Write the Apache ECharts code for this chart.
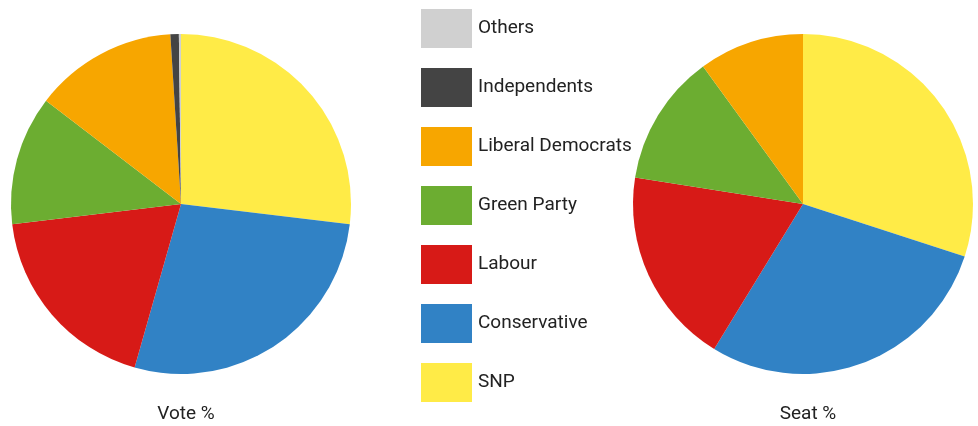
<!DOCTYPE html>
<html>
<head>
<meta charset="utf-8">
<script src="https://cdn.jsdelivr.net/npm/echarts@6/dist/echarts.min.js"></script>
<style>
  html, body { margin: 0; padding: 0; background: #fff; }
  #chart { width: 978px; height: 426px; }
</style>
</head>
<body>
<div id="chart"></div>
<script>
// party names, in pie order (clockwise from 12 o'clock)
var parties = ['SNP', 'Conservative', 'Labour', 'Green Party', 'Liberal Democrats', 'Independents', 'Others']
var colors = ['#ffeb47', '#3182c5', '#d71a17', '#6cad31', '#f7a600', '#444444', '#d0d0d0']
// legend shows them top-down in reverse
var legendOrder = ['Others', 'Independents', 'Liberal Democrats', 'Green Party', 'Labour', 'Conservative', 'SNP']

var votePct = [26.9, 27.5, 18.7, 12.3, 13.6, 0.8, 0.2]
var seatPct = [30.0, 28.75, 18.75, 12.5, 10.0, 0, 0]

var chartTitles = ['Vote %', 'Seat %']

function toData (vals) {
  var data = []
  for (var i = 0; i < parties.length; i++) {
    data.push({ name: parties[i], value: vals[i], itemStyle: { color: colors[i] } })
  }
  return data
}

function pieSeries (name, center, vals) {
  return {
    name: name,
    type: 'pie',
    center: center,
    radius: 170,
    startAngle: 90,
    clockwise: true,
    silent: true,
    animation: false,
    label: { show: false },
    labelLine: { show: false },
    itemStyle: { borderWidth: 0 },
    data: toData(vals)
  }
}

var txt = { fontFamily: 'Roboto', fontSize: 19, fontWeight: 'normal', color: '#222' }

var myChart = echarts.init(document.getElementById('chart'))
myChart.setOption({
  animation: false,
  color: colors,
  title: [
    { text: chartTitles[0], left: 181, top: 400, textAlign: 'center', textStyle: txt },
    { text: chartTitles[1], left: 803, top: 400, textAlign: 'center', textStyle: txt }
  ],
  legend: {
    orient: 'vertical',
    left: 416,
    top: 4,
    itemWidth: 51,
    itemHeight: 39,
    itemGap: 20,
    icon: 'rect',
    selectedMode: false,
    data: legendOrder,
    textStyle: { fontFamily: 'Roboto', fontSize: 19, color: '#222', padding: [5, 0, 0, 1] }
  },
  series: [
    pieSeries('Vote %', [181, 204], votePct),
    pieSeries('Seat %', [803, 204], seatPct)
  ]
})
</script>
</body>
</html>
